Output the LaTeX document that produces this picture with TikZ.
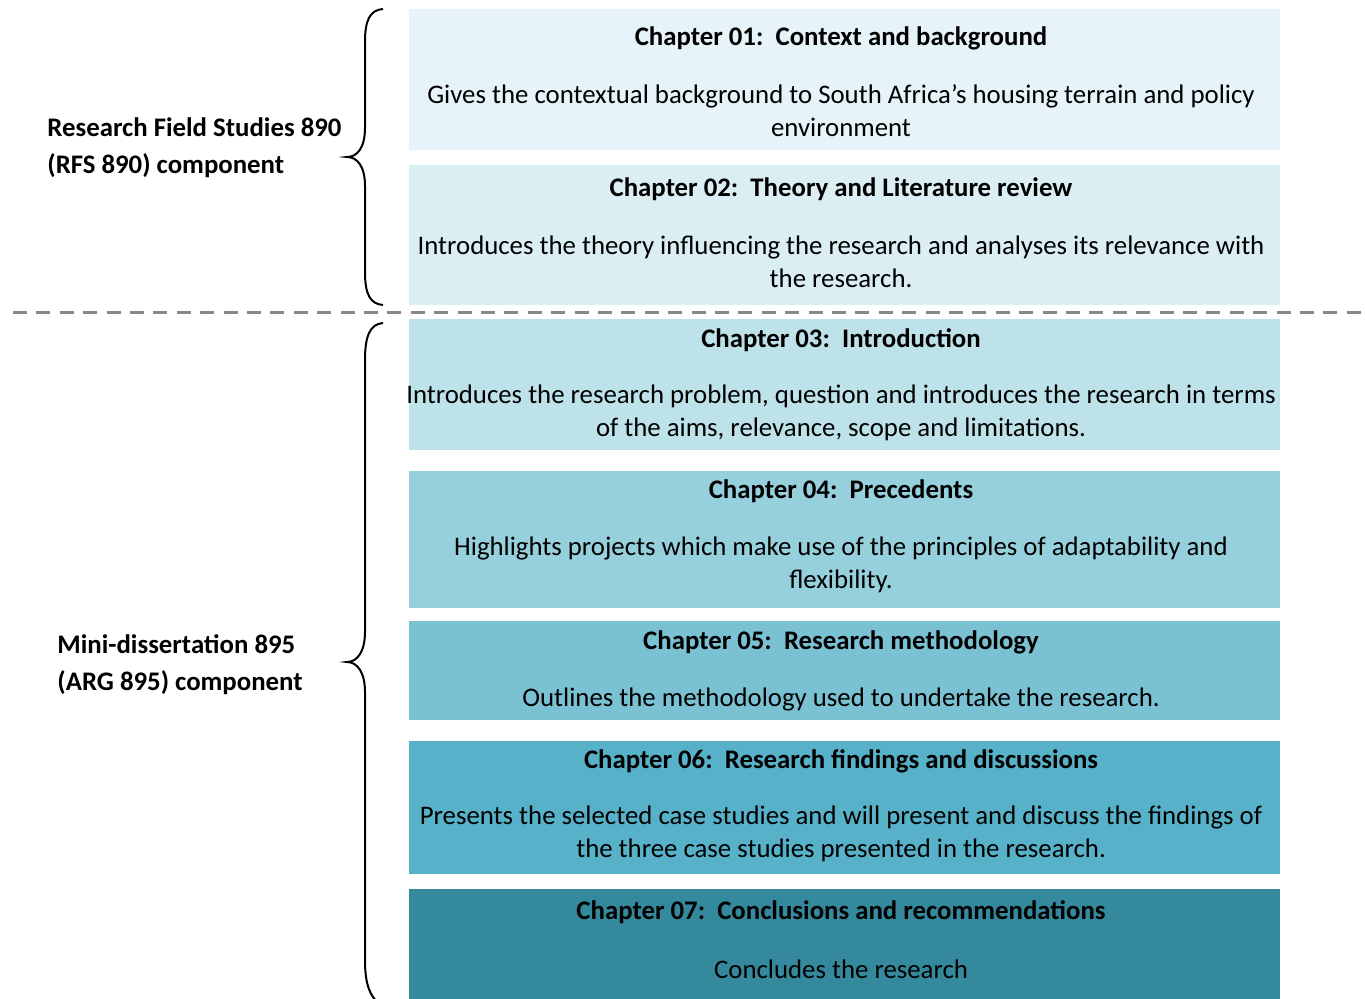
\documentclass[tikz,border=0pt]{standalone}
\usepackage{fontspec}
\setmainfont{Carlito}
\usetikzlibrary{positioning}
\definecolor{chapone}{RGB}{230,243,248}
\definecolor{chaptwo}{RGB}{218,238,243}
\definecolor{chapthree}{RGB}{190,226,233}
\definecolor{chapfour}{RGB}{151,208,221}
\definecolor{chapfive}{RGB}{122,194,211}
\definecolor{chapsix}{RGB}{87,178,201}
\definecolor{chapseven}{RGB}{52,137,157}
\definecolor{splitgray}{RGB}{136,136,136}
\tikzset{
  chapbox/.style={draw=none,inner sep=0pt,minimum width=435.5pt,anchor=north west},
  chaptitle/.style={font=\fontsize{13.4}{16.5}\selectfont\bfseries,inner sep=0pt},
  chapbody/.style={font=\fontsize{13.4}{16.5}\selectfont,align=center,inner sep=0pt},
  partlabel/.style={font=\fontsize{13.4}{18.5}\selectfont\bfseries,align=left,inner sep=0pt,anchor=west},
  bracket/.style={line width=1pt},
}
\begin{document}
\begin{tikzpicture}[x=0.5pt,y=-0.5pt]
  \useasboundingbox (0,0) rectangle (1365,999);
  \begin{scope}
  \clip (0,0) rectangle (1365,999);
  % chapter boxes
  \node[chapbox,fill=chapone,minimum height=70.5pt]   (c1) at (409,9)   {};
  \node[chapbox,fill=chaptwo,minimum height=70pt]     (c2) at (409,165) {};
  \node[chapbox,fill=chapthree,minimum height=65.5pt] (c3) at (409,319) {};
  \node[chapbox,fill=chapfour,minimum height=68.5pt]  (c4) at (409,471) {};
  \node[chapbox,fill=chapfive,minimum height=49.5pt]  (c5) at (409,621) {};
  \node[chapbox,fill=chapsix,minimum height=66.5pt]   (c6) at (409,741) {};
  \node[chapbox,fill=chapseven,minimum height=60pt]   (c7) at (409,889) {};

  \node[chaptitle] (t1) at (841,38)  {Chapter 01:\ \ Context and background};
  \node[chapbody]  (b1) at (841,111) {Gives the contextual background to South Africa’s housing terrain and policy\\environment};
  \node[chaptitle] (t2) at (841,189) {Chapter 02:\ \ Theory and Literature review};
  \node[chapbody]  (b2) at (841,262) {Introduces the theory influencing the research and analyses its relevance with\\the research.};
  \node[chaptitle] (t3) at (841,340) {Chapter 03:\ \ Introduction};
  \node[chapbody]  (b3) at (841,413) {Introduces the research problem, question and introduces the research in terms\\of the aims, relevance, scope and limitations.};
  \node[chaptitle] (t4) at (841,491) {Chapter 04:\ \ Precedents};
  \node[chapbody]  (b4) at (841,565) {Highlights projects which make use of the principles of adaptability and\\flexibility.};
  \node[chaptitle] (t5) at (841,642) {Chapter 05:\ \ Research methodology};
  \node[chapbody]  (b5) at (841,699) {Outlines the methodology used to undertake the research.};
  \node[chaptitle] (t6) at (841,761) {Chapter 06:\ \ Research findings and discussions};
  \node[chapbody]  (b6) at (841,834) {Presents the selected case studies and will present and discuss the findings of\\the three case studies presented in the research.};
  \node[chaptitle] (t7) at (841,912) {Chapter 07:\ \ Conclusions and recommendations};
  \node[chapbody]  (b7) at (841,969) {Concludes the research};

  % split between the two components
  \draw[splitgray,line width=1.5pt,dash pattern=on 7pt off 4.7pt] (13,313) -- (1365,313);

  % braces
  \draw[bracket] (383,9) .. controls (370,10) and (365,20) .. (365,42) -- (365,128)
    .. controls (365,148) and (357,157) .. (347,157)
    .. controls (357,157) and (365,166) .. (365,186) -- (365,272)
    .. controls (365,294) and (370,304) .. (383,305);
  \draw[bracket] (383,323) .. controls (370,324) and (365,336) .. (365,360) -- (365,632)
    .. controls (365,652) and (357,662) .. (347,662)
    .. controls (357,662) and (365,672) .. (365,692) -- (365,960)
    .. controls (365,985) and (370,996) .. (380,1005);

  % component labels
  \node[partlabel] (rfs) at (47,147.5) {Research Field Studies 890\\(RFS 890) component};
  \node[partlabel] (arg) at (57,665) {Mini-dissertation 895\\(ARG 895) component};
  \end{scope}
\end{tikzpicture}
\end{document}
